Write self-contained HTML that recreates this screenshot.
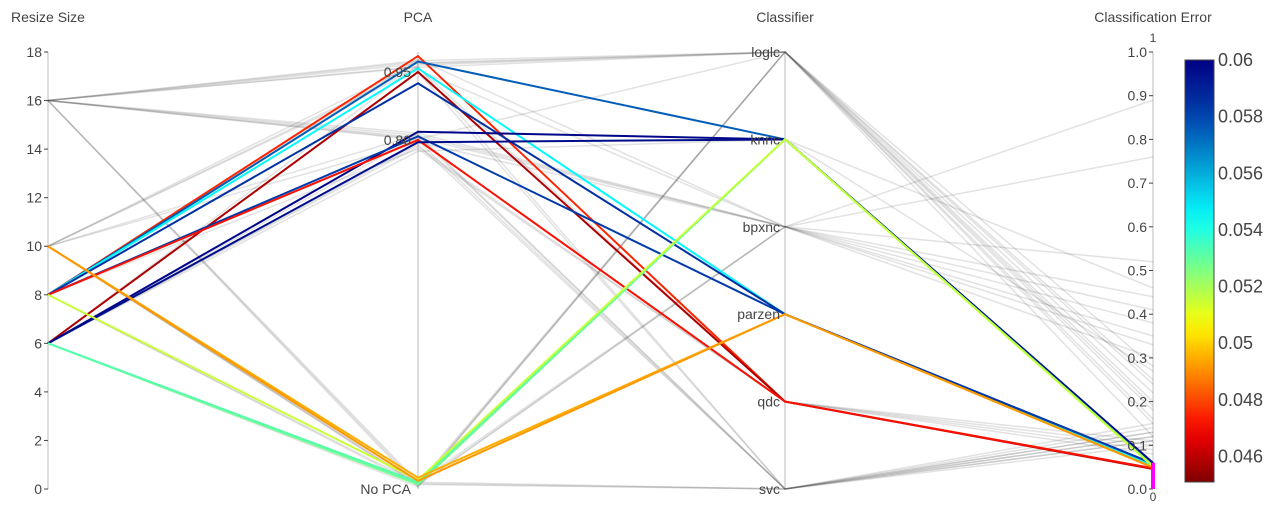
<!DOCTYPE html>
<html><head><meta charset="utf-8"><style>
body{margin:0;background:#fff;width:1282px;height:517px;overflow:hidden;font-family:"Liberation Sans",sans-serif}
svg text{font-family:"Liberation Sans",sans-serif;fill:#444}
</style></head><body>
<svg id="chart" width="1282" height="517" xmlns="http://www.w3.org/2000/svg">
<g id="axes"></g><g id="gray"></g><g id="colored"></g><g id="labels"></g><g id="cbar"></g>
</svg>
<script>
// ---- data ----
const sizes = [8,8,8,6,8,6,8,8,6,6,6,8,10,10,
  16,16,16,16,16,16,16,16,16,10,10,10,10,10,6,6,6,6,8,8,8,16,16,10,6,6,8,16,10,6,8,10,16,6];
const pcas = [0.985,0.973,0.958,0.950,0.925,0.818,0.808,0.800,0.795,0.040,0.045,0.050,0.055,0.048,
  0.975,0.968,0.962,0.815,0.805,0.800,0.035,0.040,0.045,0.970,0.960,0.812,0.795,0.040,0.965,0.790,0.785,0.035,0.978,0.798,0.038,0.972,0.810,0.955,0.808,0.045,0.042,0.960,0.042,0.775,0.780,0.038,0.802,0.950];
const clfs = ["qdc","knnc","parzen","qdc","parzen","knnc","parzen","qdc","knnc","knnc","knnc","knnc","parzen","parzen",
  "loglc","loglc","svc","bpxnc","bpxnc","qdc","loglc","bpxnc","svc","loglc","qdc","svc","bpxnc","svc","loglc","svc","qdc","loglc","bpxnc","svc","loglc","knnc","bpxnc","bpxnc","svc","bpxnc","svc","loglc","loglc","knnc","qdc","bpxnc","loglc","svc"];
const errors = [0.0475,0.0575,0.0545,0.0458,0.0585,0.0598,0.0582,0.0472,0.0596,0.0528,0.0532,0.0515,0.0495,0.0492,
  0.12,0.15,0.11,0.33,0.38,0.10,0.22,0.89,0.13,0.25,0.09,0.14,0.41,0.12,0.18,0.11,0.08,0.28,0.52,0.15,0.16,0.46,0.76,0.35,0.10,0.30,0.12,0.20,0.24,0.27,0.11,0.44,0.19,0.13];
const sizeTicks = [0,2,4,6,8,10,12,14,16,18];
const errTicks = [0,0.1,0.2,0.3,0.4,0.5,0.6,0.7,0.8,0.9,1.0];
const clfCats = ["loglc","knnc","bpxnc","parzen","qdc","svc"];
const pcaTicks = [0.95,0.80,0.03];
const pcaTickLabels = ["0.95","0.80","No PCA"];
const cbTicks = [0.046,0.048,0.05,0.052,0.054,0.056,0.058,0.06];
const cmin=0.0451, cmax=0.06, errMax=0.06;

// ---- scales ----
const X=[48,418,785,1153], TOP=52, BOT=489, H=BOT-TOP;
const ySize=v=>BOT-v/18*H;
const yPca=v=>BOT-(v-0.03)/(0.994-0.03)*H;
const yClf=c=>TOP+clfCats.indexOf(c)*H/5;
const yErr=v=>BOT-v*H;
const NS="http://www.w3.org/2000/svg";
function mk(tag,attrs,parent,txt){const e=document.createElementNS(NS,tag);for(const k in attrs)e.setAttribute(k,attrs[k]);if(txt!=null)e.textContent=txt;parent.appendChild(e);return e;}
const jet=[[0,[0,0,131]],[0.125,[0,60,170]],[0.375,[5,255,255]],[0.625,[255,255,0]],[0.875,[250,0,0]],[1,[128,0,0]]];
function color(v){let t=1-Math.max(0,Math.min(1,(v-cmin)/(cmax-cmin)));for(let i=1;i<jet.length;i++){if(t<=jet[i][0]){const a=jet[i-1],b=jet[i],f=(t-a[0])/(b[0]-a[0]);return 'rgb('+a[1].map((c,j)=>Math.round(c+(b[1][j]-c)*f)).join(',')+')';}}return 'rgb(128,0,0)';}

const axes=document.getElementById('axes'),gray=document.getElementById('gray'),col=document.getElementById('colored'),lab=document.getElementById('labels'),cb=document.getElementById('cbar');
const titles=["Resize Size","PCA","Classifier","Classification Error"];
X.forEach((x,i)=>{
  const a=mk('line',{x1:x,y1:TOP,x2:x,y2:BOT,stroke:'#ddd','stroke-width':2},axes);
  
  
  const t=mk('text',{x:x,y:22,'text-anchor':'middle','font-size':14},lab,titles[i]);
  
  
});
for(let i=0;i<sizes.length;i++){
  const pts=[[X[0],ySize(sizes[i])],[X[1],yPca(pcas[i])],[X[2],yClf(clfs[i])],[X[3],yErr(errors[i])]];
  const ok=errors[i]<=errMax;
  const p=mk('polyline',{points:pts.map(q=>q.join(',')).join(' '),fill:'none',stroke:ok?color(errors[i]):'rgba(60,60,60,0.15)','stroke-width':ok?2:1.5},ok?col:gray);
  
  
}
sizeTicks.forEach(v=>{const y=ySize(v);mk('line',{x1:X[0]-4,y1:y,x2:X[0],y2:y,stroke:'#444'},lab);
  const t=mk('text',{x:X[0]-6,y:y+5,'text-anchor':'end','font-size':14},lab,v);
  
  });
errTicks.forEach(v=>{const y=yErr(v);mk('line',{x1:X[3]-4,y1:y,x2:X[3],y2:y,stroke:'#444'},lab);
  const t=mk('text',{x:X[3]-6,y:y+5,'text-anchor':'end','font-size':14},lab,v.toFixed(1));
  
  });
pcaTicks.forEach((v,i)=>{const y=yPca(v);
  const t=mk('text',{x:X[1]-7,y:y+5,'text-anchor':'end','font-size':14},lab,pcaTickLabels[i]);
  
  });
clfCats.forEach(c=>{const y=yClf(c);
  const t=mk('text',{x:X[2]-5,y:y+5,'text-anchor':'end','font-size':14},lab,c);
  
  });
mk('text',{x:X[3],y:42,'text-anchor':'middle','font-size':12},lab,'1');
mk('text',{x:X[3],y:501,'text-anchor':'middle','font-size':12},lab,'0');
const br=mk('rect',{x:X[3]-2,y:yErr(errMax),width:4,height:BOT-yErr(errMax),fill:'magenta'},lab);


const defs=mk('defs',{},cb);const g=mk('linearGradient',{id:'cg',x1:0,y1:1,x2:0,y2:0},defs);
for(let k=0;k<=20;k++){const v=cmin+(cmax-cmin)*k/20;mk('stop',{offset:(k/20),'stop-color':color(v)},g);}
const cy0=60,cy1=482,cyv=v=>cy1-(v-cmin)/(cmax-cmin)*(cy1-cy0);
const cr=mk('rect',{x:1185,y:cy0,width:29,height:cy1-cy0,fill:'url(#cg)',stroke:'#444','stroke-width':1},cb);


cbTicks.forEach(v=>{const t=mk('text',{x:1218,y:cyv(v)+6,'font-size':18},cb,String(+v.toFixed(3)));
  
  });
</script>
</body></html>
